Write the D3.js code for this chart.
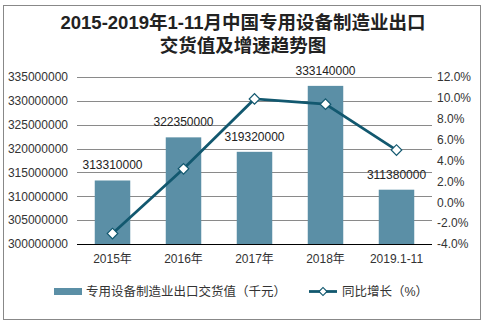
<!DOCTYPE html>
<html><head><meta charset="utf-8">
<script src="https://cdn.jsdelivr.net/npm/d3@7"></script>
<style>body{margin:0;background:#fff}</style>
</head><body>
<svg id="c" width="485" height="323"></svg>
<script>
const categories = ["2015年","2016年","2017年","2018年","2019.1-11"];
const exportValues = [313310000, 322350000, 319320000, 333140000, 311380000];
const growthRates = [-3.0, 3.2, 9.9, 9.4, 5.0];
const leftTicks = [300000000,305000000,310000000,315000000,320000000,325000000,330000000,335000000];
const rightTicks = [-4,-2,0,2,4,6,8,10,12];
const titleLines = ["2015-2019年1-11月中国专用设备制造业出口","交货值及增速趋势图"];
const legendLabels = ["专用设备制造业出口交货值（千元）","同比增长（%）"];

const font = "'Liberation Sans', Arial, 'Noto Sans CJK SC', sans-serif";
const barColor = "#5b8fa6", lineColor = "#12586f";
const svg = d3.select("#c");
svg.append("rect").attr("x",3.5).attr("y",5.5).attr("width",477).attr("height",314)
  .attr("fill","#fff").attr("stroke","#888").attr("stroke-width",1);

svg.selectAll("text.title").data(titleLines).join("text")
  .attr("x",243).attr("y",(d,i)=>29+i*23).attr("text-anchor","middle")
  .attr("font-family",font).attr("font-weight","bold").attr("font-size",18.5).attr("fill","#222").text(d=>d);

const x0=77, x1=432, yTop=77, yBot=244;
const x = d3.scaleBand().domain(categories).range([x0,x1]).paddingInner(0.5).paddingOuter(0.25);
const y = d3.scaleLinear().domain([300000000,335000000]).range([yBot,yTop]);
const y2 = d3.scaleLinear().domain([-4,12]).range([yBot,yTop]);

// gridlines
svg.append("g").selectAll("line").data(leftTicks.slice(1)).join("line")
  .attr("x1",x0).attr("x2",x1).attr("y1",d=>Math.round(y(d))+0.5).attr("y2",d=>Math.round(y(d))+0.5)
  .attr("stroke","#8a8a8a").attr("stroke-width",1);

// left axis
const la = svg.append("g").attr("transform",`translate(${x0},0)`)
  .call(d3.axisLeft(y).tickValues(leftTicks).tickFormat(d3.format("d")).tickSize(0).tickPadding(9));
la.select(".domain").remove();
la.selectAll("text").attr("font-family",font).attr("font-size",12).attr("fill","#333");

// right axis
const ra = svg.append("g").attr("transform",`translate(${x1},0)`)
  .call(d3.axisRight(y2).tickValues(rightTicks).tickFormat(d=>d.toFixed(1)+"%").tickSize(0).tickPadding(5));
ra.select(".domain").remove();
ra.selectAll("text").attr("font-family",font).attr("font-size",12).attr("fill","#333");

// bars
svg.append("g").selectAll("rect").data(exportValues).join("rect")
  .attr("x",(d,i)=>x(categories[i])).attr("width",x.bandwidth())
  .attr("y",d=>y(d)).attr("height",d=>yBot-y(d)).attr("fill",barColor);

// bar labels
svg.append("g").selectAll("text").data(exportValues).join("text")
  .attr("x",(d,i)=>x(categories[i])+x.bandwidth()/2).attr("y",d=>y(d)-11)
  .attr("text-anchor","middle").attr("font-family",font).attr("font-size",12).attr("fill","#222").text(d=>d);

// bottom axis
const ba = svg.append("g").attr("transform",`translate(0,${yBot})`)
  .call(d3.axisBottom(x).tickSize(0).tickPadding(10));
ba.select(".domain").attr("stroke","#000").attr("d",`M${x0},0.5H${x1}`);
ba.selectAll("text").attr("font-family",font).attr("font-size",12).attr("fill","#333");

// line
const line = d3.line().x((d,i)=>x(categories[i])+x.bandwidth()/2).y(d=>y2(d));
svg.append("path").datum(growthRates).attr("d",line).attr("fill","none")
  .attr("stroke",lineColor).attr("stroke-width",2.8);
svg.append("g").selectAll("path").data(growthRates).join("path")
  .attr("d",d3.symbol().type(d3.symbolSquare).size(56))
  .attr("transform",(d,i)=>`translate(${x(categories[i])+x.bandwidth()/2},${y2(d)}) rotate(45)`)
  .attr("fill","#fff").attr("stroke",lineColor).attr("stroke-width",1.2);

// legend
const lg = svg.append("g");
lg.append("rect").attr("x",54).attr("y",288).attr("width",28).attr("height",7).attr("fill",barColor);
lg.append("text").attr("x",86).attr("y",296).attr("font-family",font).attr("font-size",12.5).attr("fill","#333").text(legendLabels[0]);
lg.append("line").attr("x1",309).attr("x2",337).attr("y1",291.5).attr("y2",291.5).attr("stroke",lineColor).attr("stroke-width",2.8);
lg.append("path").attr("d",d3.symbol().type(d3.symbolSquare).size(32))
  .attr("transform","translate(323,291.5) rotate(45)").attr("fill","#fff").attr("stroke",lineColor).attr("stroke-width",1.2);
lg.append("text").attr("x",342).attr("y",296).attr("font-family",font).attr("font-size",12.5).attr("fill","#333").text(legendLabels[1]);
</script>
</body></html>
